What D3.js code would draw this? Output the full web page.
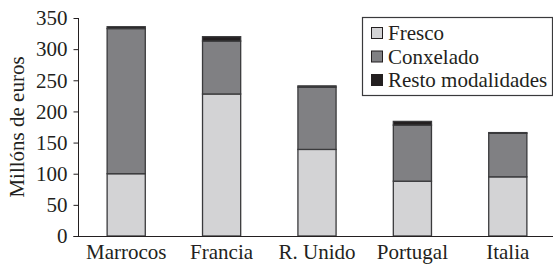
<!DOCTYPE html>
<html>
<head>
<meta charset="utf-8">
<script src="https://cdn.jsdelivr.net/npm/d3@7"></script>
<style>
  body { margin: 0; background: #fff; }
  svg text { font-family: "Liberation Serif", "Tinos", "Times New Roman", "DejaVu Serif", serif; fill: #231f20; }
</style>
</head>
<body>
<svg id="chart" width="553" height="264"></svg>
<script>
let countries = ["Marrocos", "Francia", "R. Unido", "Portugal", "Italia"];
let fresco = [100, 228, 139, 88, 95];
let conxelado = [233, 85, 100, 90, 70];
let resto = [3, 7, 2, 6, 1];
let seriesNames = ["Fresco", "Conxelado", "Resto modalidades"];
let yTicks = [0, 50, 100, 150, 200, 250, 300, 350];

let colors = ["#d3d3d5", "#808083", "#231f20"];
let serif = "'Liberation Serif', Tinos, 'Times New Roman', 'DejaVu Serif', serif";

let rows = countries.map((c, i) => ({
  country: c,
  Fresco: fresco[i],
  Conxelado: conxelado[i],
  "Resto modalidades": resto[i],
}));

let svg = d3.select("#chart");

let x = d3
  .scaleBand()
  .domain(countries)
  .range([78.5, 555.5])
  .paddingInner(0.6)
  .paddingOuter(0.3);

let y = d3.scaleLinear().domain([0, 350]).range([236, 18]);

let stack = d3.stack().keys(seriesNames)(rows);

// bars
svg
  .append("g")
  .selectAll("g")
  .data(stack)
  .enter()
  .append("g")
  .attr("fill", (d, i) => colors[i])
  .selectAll("rect")
  .data((d) => d)
  .enter()
  .append("rect")
  .attr("x", (d) => x(d.data.country))
  .attr("width", x.bandwidth())
  .attr("y", (d) => y(d[1]))
  .attr("height", (d) => y(d[0]) - y(d[1]))
  .attr("stroke", "#3a3a3c")
  .attr("stroke-width", 1.3);

// y axis
let yAxis = svg
  .append("g")
  .attr("transform", "translate(78.5,0)")
  .call(d3.axisLeft(y).tickValues(yTicks).tickSize(5).tickPadding(6));
yAxis.attr("font-family", serif).attr("font-size", 21);
yAxis.select(".domain").attr("stroke", "#231f20").attr("d", "M0," + y(350) + "V" + y(0));
yAxis.selectAll(".tick line").attr("stroke", "#231f20");
yAxis.selectAll("text").attr("fill", "#231f20");

// x axis line
svg
  .append("line")
  .attr("x1", 73.5)
  .attr("x2", 553)
  .attr("y1", y(0) + 0.5)
  .attr("y2", y(0) + 0.5)
  .attr("stroke", "#231f20");

// category labels
svg
  .append("g")
  .selectAll("text")
  .data(countries)
  .enter()
  .append("text")
  .attr("x", (d) => x(d) + x.bandwidth() / 2)
  .attr("y", 259)
  .attr("text-anchor", "middle")
  .attr("font-size", 21)
  .text((d) => d);

// y title
svg
  .append("text")
  .attr("transform", "translate(24," + (y(0) + y(350)) / 2 + ") rotate(-90)")
  .attr("text-anchor", "middle")
  .attr("font-size", 21)
  .text("Millóns de euros");

// legend
let legend = svg.append("g").attr("transform", "translate(362,17)");
legend
  .append("rect")
  .attr("x", 0.5)
  .attr("y", 0.5)
  .attr("width", 190)
  .attr("height", 78)
  .attr("fill", "#fff")
  .attr("stroke", "#3a3a3c")
  .attr("stroke-width", 1.2);

let item = legend
  .selectAll("g.item")
  .data(seriesNames)
  .enter()
  .append("g")
  .attr("class", "item")
  .attr("transform", (d, i) => "translate(9," + (17 + i * 23.5) + ")");

item
  .append("rect")
  .attr("x", 0.5)
  .attr("y", -6.5)
  .attr("width", 11)
  .attr("height", 11)
  .attr("fill", (d, i) => colors[i])
  .attr("stroke", "#231f20")
  .attr("stroke-width", 1);

item
  .append("text")
  .attr("x", 17)
  .attr("y", 6)
  .attr("font-size", 21)
  .text((d) => d);
</script>
</body>
</html>
